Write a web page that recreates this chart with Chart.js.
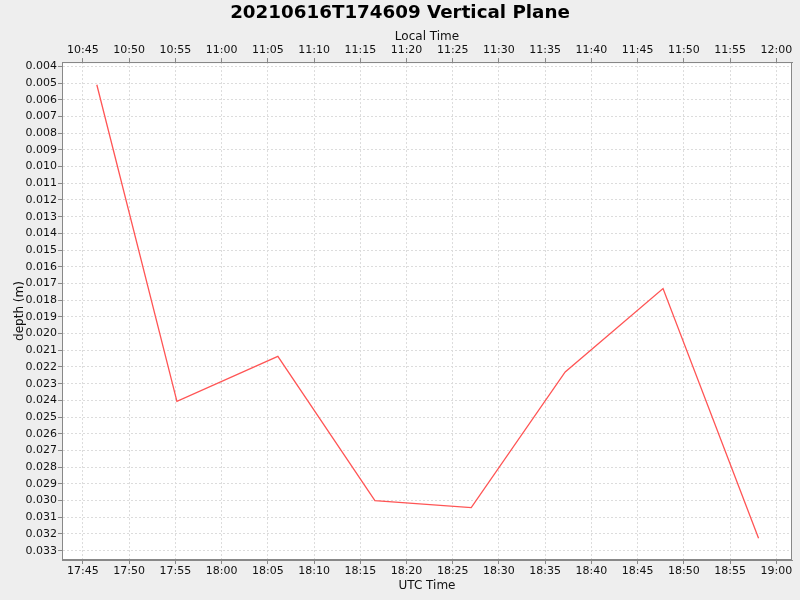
<!DOCTYPE html>
<html>
<head>
<meta charset="utf-8">
<title>20210616T174609 Vertical Plane</title>
<script src="https://cdn.jsdelivr.net/npm/chart.js@4.4.1/dist/chart.umd.min.js"></script>
<style>
    html, body { margin: 0; padding: 0; background: #eeeeee; }
    #wrap { width: 800px; height: 600px; }
</style>
</head>
<body>
<div id="wrap"><canvas id="depthChart" width="800" height="600"></canvas></div>
<script>
// samples (UTC clock time, depth in metres)
const utcTimes = ['17:46:30', '17:55:10', '18:06:05', '18:16:35', '18:27:00', '18:37:10', '18:47:45', '18:58:05']
const depths = [0.0051, 0.02406, 0.02136, 0.0300, 0.03042, 0.0223, 0.0173, 0.03226]

const utcTickLabels = ['17:45', '17:50', '17:55', '18:00', '18:05', '18:10', '18:15', '18:20',
    '18:25', '18:30', '18:35', '18:40', '18:45', '18:50', '18:55', '19:00']
const localTickLabels = ['10:45', '10:50', '10:55', '11:00', '11:05', '11:10', '11:15', '11:20',
    '11:25', '11:30', '11:35', '11:40', '11:45', '11:50', '11:55', '12:00']
const depthTickLabels = ['0.004', '0.005', '0.006', '0.007', '0.008', '0.009', '0.010', '0.011',
    '0.012', '0.013', '0.014', '0.015', '0.016', '0.017', '0.018', '0.019', '0.020', '0.021',
    '0.022', '0.023', '0.024', '0.025', '0.026', '0.027', '0.028', '0.029', '0.030', '0.031',
    '0.032', '0.033']

// visible range of the plot
const timeMin = '17:42:44'
const timeMax = '19:01:42'
const depthMin = 0.00374
const depthMax = 0.03356

const toMinutes = (t) => {
    const [h, m, s] = t.split(':').map(Number)
    return h * 60 + m + (s || 0) / 60
}

const points = utcTimes.map((t, i) => ({ x: toMinutes(t), y: depths[i] }))

Chart.defaults.font.family = "'DejaVu Sans', sans-serif"
Chart.defaults.color = '#111111'

const tickFont = { size: 11 }
const titleFont = { size: 12 }

const plotFrame = {
    id: 'plotFrame',
    beforeDraw(chart) {
        const { ctx, chartArea: a } = chart
        ctx.save()
        ctx.fillStyle = '#ffffff'
        ctx.fillRect(a.left, a.top, a.width, a.height)
        ctx.restore()
    },
    afterDraw(chart) {
        const { ctx, chartArea: a } = chart
        ctx.save()
        ctx.strokeStyle = '#888888'
        ctx.lineWidth = 1
        ctx.strokeRect(a.left + 0.5, a.top + 0.5, a.width - 1, a.height - 1)
        ctx.restore()
    },
}

const timeAxis = (labels, position, title, height, onArea) => ({
    type: 'linear',
    position: position,
    min: toMinutes(timeMin),
    max: toMinutes(timeMax),
    afterBuildTicks: (axis) => {
        axis.ticks = utcTickLabels.map((l) => ({ value: toMinutes(l) }))
    },
    afterFit: (axis) => {
        axis.height = height
    },
    ticks: {
        callback: (value, index) => labels[index],
        font: tickFont,
        color: '#111111',
        autoSkip: false,
        maxRotation: 0,
        padding: 1,
    },
    grid: {
        drawOnChartArea: onArea,
        color: '#dcdcdc',
        tickColor: '#888888',
        tickLength: 4,
        tickBorderDash: [],
    },
    border: { color: '#888888', dash: [2, 2] },
    title: {
        display: true,
        text: title,
        font: titleFont,
        color: '#111111',
        padding: position === 'top' ? { top: 4, bottom: 0 } : { top: 0, bottom: 7 },
    },
})

new Chart(document.getElementById('depthChart'), {
    type: 'line',
    data: {
        datasets: [
            {
                label: 'depth',
                data: points,
                borderColor: '#ff5555',
                backgroundColor: '#ff5555',
                borderWidth: 1.3,
                pointRadius: 0,
                tension: 0,
                fill: false,
            },
        ],
    },
    options: {
        responsive: false,
        animation: false,
        devicePixelRatio: 1,
        layout: { padding: { left: 8, right: 8, top: 0, bottom: 0 } },
        plugins: {
            legend: { display: false },
            tooltip: { enabled: false },
            title: {
                display: true,
                text: '20210616T174609 Vertical Plane',
                color: '#000000',
                font: { size: 18.3, weight: 'bold' },
                padding: { top: 2, bottom: 2 },
            },
        },
        scales: {
            x: timeAxis(utcTickLabels, 'bottom', 'UTC Time', 40, true),
            x2: timeAxis(localTickLabels, 'top', 'Local Time', 36.1, false),
            y: {
                type: 'linear',
                reverse: true,
                min: depthMin,
                max: depthMax,
                afterBuildTicks: (axis) => {
                    axis.ticks = depthTickLabels.map((l) => ({ value: Number(l) }))
                },
                afterFit: (axis) => {
                    axis.width = 54
                },
                ticks: {
                    callback: (value, index) => depthTickLabels[index],
                    font: tickFont,
                    color: '#111111',
                    autoSkip: false,
                    padding: 1,
                },
                grid: {
                    color: '#dcdcdc',
                    tickColor: '#888888',
                    tickLength: 4,
                    tickBorderDash: [],
                },
                border: { color: '#888888', dash: [2, 2] },
                title: {
                    display: true,
                    text: 'depth (m)',
                    font: titleFont,
                    color: '#111111',
                    padding: { top: 5, bottom: 0 },
                },
            },
        },
    },
    plugins: [plotFrame],
})
</script>
</body>
</html>
